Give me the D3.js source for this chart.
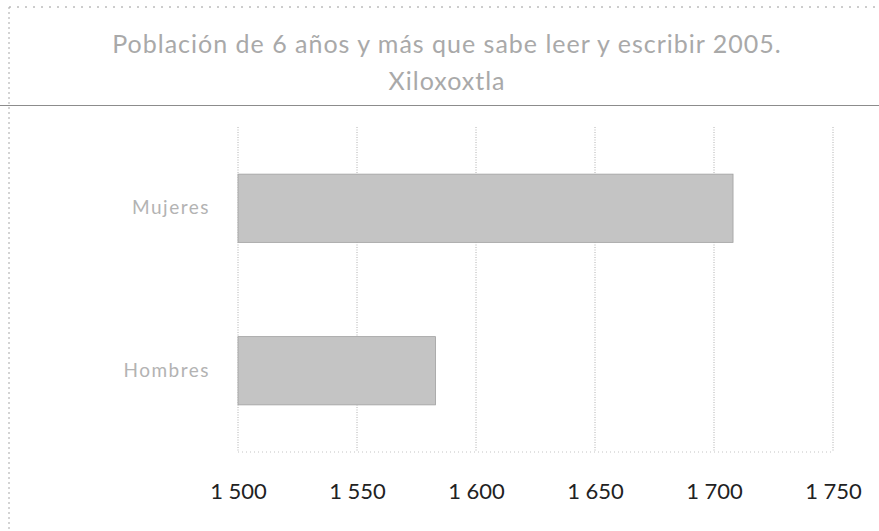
<!DOCTYPE html>
<html>
<head>
<meta charset="utf-8">
<script src="https://cdn.jsdelivr.net/npm/d3@7"></script>
<style>
  body { margin: 0; background: #fff; }
  svg { display: block; }
</style>
</head>
<body>
<div id="chart"></div>
<script>
var titleLines = ["Población de 6 años y más que sabe leer y escribir 2005.", "Xiloxoxtla"];
var categories = ["Mujeres", "Hombres"];
var values = [1708, 1583];
var xTicks = [1500, 1550, 1600, 1650, 1700, 1750];

var W = 879, H = 531;
var margin = {top: 127, right: 46, bottom: 79, left: 238};
var width = W - margin.left - margin.right,
    height = H - margin.top - margin.bottom;

var svg = d3.select("#chart").append("svg")
    .attr("width", W)
    .attr("height", H);

// frame: dotted top and left edge, rule under the title
svg.append("line")
    .attr("x1", 9).attr("x2", W).attr("y1", 7).attr("y2", 7)
    .attr("stroke", "#9a9a9a").attr("stroke-width", 1)
    .attr("stroke-dasharray", "2,6");
svg.append("line")
    .attr("x1", 9).attr("x2", 9).attr("y1", 7).attr("y2", H)
    .attr("stroke", "#a8a8a8").attr("stroke-width", 1)
    .attr("stroke-dasharray", "2,3");
svg.append("line")
    .attr("x1", 0).attr("x2", W).attr("y1", 105.5).attr("y2", 105.5)
    .attr("stroke", "#8c8c8c").attr("stroke-width", 1.2);

// title
svg.selectAll("text.title")
  .data(titleLines)
  .enter().append("text")
    .attr("class", "title")
    .attr("x", 447)
    .attr("y", function(d, i) { return 53 + i * 37; })
    .attr("text-anchor", "middle")
    .style("font-family", "Lato, 'Open Sans', sans-serif")
    .style("font-size", "25px")
    .style("letter-spacing", "1px")
    .style("fill", "#a9a9a9")
    .text(function(d) { return d; });

var x = d3.scaleLinear()
    .domain([1500, 1750])
    .range([0, width]);

var y = d3.scaleBand()
    .domain(categories)
    .range([0, height])
    .paddingInner(0.58)
    .paddingOuter(0.29);

var main = svg.append("g")
    .attr("transform", "translate(" + margin.left + "," + margin.top + ")");

// vertical grid lines
main.selectAll("line.grid")
  .data(xTicks)
  .enter().append("line")
    .attr("class", "grid")
    .attr("x1", function(d) { return x(d); })
    .attr("x2", function(d) { return x(d); })
    .attr("y1", 0)
    .attr("y2", height)
    .attr("stroke", "#b0b0b0")
    .attr("stroke-width", 1)
    .attr("stroke-dasharray", "1,1.5");

main.append("line")
    .attr("x1", 0).attr("x2", width)
    .attr("y1", height).attr("y2", height)
    .attr("stroke", "#c4c4c4")
    .attr("stroke-dasharray", "1,3");

// bars
main.selectAll("rect.bar")
  .data(values)
  .enter().append("rect")
    .attr("class", "bar")
    .attr("x", x(1500))
    .attr("y", function(d, i) { return y(categories[i]); })
    .attr("width", function(d) { return x(d) - x(1500); })
    .attr("height", y.bandwidth())
    .style("fill", "#c4c4c4")
    .style("stroke", "#a0a0a0")
    .style("stroke-width", 0.8);

// x axis labels
var xAxis = d3.axisBottom(x)
    .tickValues(xTicks)
    .tickSize(0)
    .tickPadding(31)
    .tickFormat(function(d) { return d3.format(",")(d).replace(",", " "); });

var gx = main.append("g")
    .attr("transform", "translate(0," + height + ")")
    .call(xAxis);
gx.select(".domain").remove();
gx.selectAll("text")
    .style("font-family", "Lato, 'Open Sans', sans-serif")
    .style("font-size", "22px")
    .style("fill", "#222");

// category labels
var yAxis = d3.axisLeft(y)
    .tickSize(0)
    .tickPadding(28);

var gy = main.append("g").call(yAxis);
gy.select(".domain").remove();
gy.selectAll("text")
    .style("font-family", "Lato, 'Open Sans', sans-serif")
    .style("font-size", "19px")
    .style("letter-spacing", "1.5px")
    .style("fill", "#b3b3b3");
</script>
</body>
</html>
